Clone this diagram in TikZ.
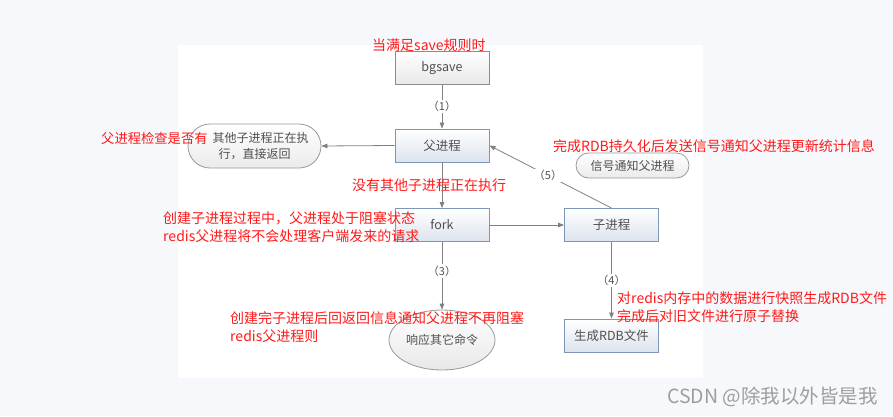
\documentclass[tikz,border=0pt]{standalone}
\usepackage{fontspec}
\newfontfamily\cjk{Noto Sans CJK SC}
\usetikzlibrary{arrows.meta,shapes.geometric,shapes.misc,shadings}
\definecolor{bgc}{HTML}{F7F8FC}
\definecolor{redtxt}{HTML}{FF1A1A}
\definecolor{graytxt}{HTML}{505050}
\definecolor{lineclr}{HTML}{808080}
\definecolor{blueborder}{HTML}{7F96B8}
\definecolor{grayborder}{HTML}{8C8C8C}
\definecolor{bluefill}{HTML}{DCE3EE}
\tikzset{
  boxbase/.style={rectangle, minimum width=94pt, minimum height=33pt, inner sep=0pt,
    font=\cjk\fontsize{12.5}{14}\selectfont, text=graytxt, line width=0.9pt},
  graybox/.style={boxbase, draw=grayborder, top color=white, bottom color=black!9},
  bluebox/.style={boxbase, draw=blueborder, top color=white, bottom color=bluefill},
  stadium/.style={rounded rectangle, draw=black!40, line width=0.8pt, top color=white, bottom color=black!8,
    font=\cjk\fontsize{12}{16}\selectfont, text=graytxt, inner sep=0pt, align=center},
  oval/.style={ellipse, draw=black!40, line width=0.8pt, top color=white, bottom color=black!9,
    font=\cjk\fontsize{12}{14}\selectfont, text=graytxt, inner sep=0pt},
  conn/.style={draw=lineclr, line width=0.8pt, -{Triangle[length=6pt,width=4.5pt]}},
  steplbl/.style={fill=white, font=\cjk\fontsize{11}{13}\selectfont, text=graytxt, inner sep=1.5pt},
  note/.style={font=\cjk\fontsize{14}{18}\selectfont, text=redtxt, align=left, inner sep=0pt},
  wmark/.style={font=\cjk\fontsize{19.5}{22}\selectfont, text=black!38, inner sep=0pt}
}
\begin{document}
\begin{tikzpicture}[x=1pt,y=-1pt]
\useasboundingbox (0,0) rectangle (893,416);
\fill[bgc] (0,0) rectangle (893,416);
\fill[white] (178,45) rectangle (703,378);

\node[graybox] (bg) at (442,68) {bgsave};
\node[bluebox] (fu) at (442,145.5) {父进程};
\node[bluebox] (fk) at (442,225) {fork};
\node[bluebox] (zi) at (611.5,225) {子进程};
\node[bluebox] (rdb) at (611.5,335.5) {生成RDB文件};
\node[stadium, minimum width=133pt, minimum height=44pt] (ret) at (254.5,146) {\hspace*{12pt}其他子进程正在执\\行，直接返回};
\node[stadium, minimum width=113pt, minimum height=25pt] (sig) at (632.5,165.5) {信号通知父进程};
\node[oval, minimum width=106pt, minimum height=60pt] (resp) at (442,340) {响应其它命令};

\draw[conn] (bg) -- node[steplbl] {（1）} (fu);
\draw[conn] (fu) -- (fk);
\draw[conn] (fu.west) -- (ret.east);
\draw[conn] (fk) -- (zi);
\draw[conn] (fk) -- node[steplbl, pos=0.43] {（3）} (resp);
\draw[conn] (zi) -- node[steplbl, pos=0.5] {（4）} (rdb);
\draw[conn] (zi.north) -- node[steplbl, pos=0.52] {（5）} (fu.east);

\node[note, anchor=west] (n1) at (372,45) {当满足save规则时};
\node[note, anchor=west, font=\cjk\fontsize{13.3}{18}\selectfont] (n2) at (101,138) {父进程检查是否有};
\node[note, anchor=west] (n3) at (553,146) {完成RDB持久化后发送信号通知父进程更新统计信息};
\node[note, anchor=west] (n4) at (352,185) {没有其他子进程正在执行};
\node[note, anchor=west] (n5) at (163,227) {创建子进程过程中，父进程处于阻塞状态\\redis父进程将不会处理客户端发来的请求};
\node[note, anchor=west] (n6) at (617,307) {对redis内存中的数据进行快照生成RDB文件\\完成后对旧文件进行原子替换};
\node[note, anchor=west] (n7) at (230,327) {创建完子进程后回返回信息通知父进程不再阻塞\\redis父进程则};
\node[wmark, anchor=west] (wm) at (667,397) {CSDN @除我以外皆是我};
\end{tikzpicture}
\end{document}
